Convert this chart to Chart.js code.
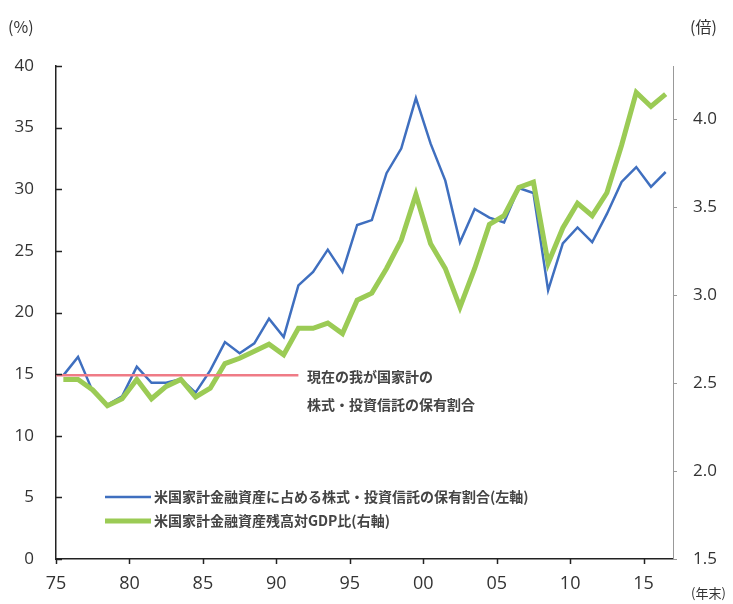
<!DOCTYPE html>
<html>
<head>
<meta charset="utf-8">
<script src="https://cdn.jsdelivr.net/npm/chart.js@4.4.1/dist/chart.umd.min.js"></script>
<style>
  body { margin: 0; background: #fff; }
  #wrap { width: 733px; height: 604px; position: relative; }
</style>
</head>
<body>
<div id="wrap"><canvas id="c" width="733" height="604"></canvas></div>
<script>
// year-end data, 1975 - 2016
var years = [1975,1976,1977,1978,1979,1980,1981,1982,1983,1984,1985,1986,1987,1988,1989,1990,1991,1992,1993,1994,1995,
             1996,1997,1998,1999,2000,2001,2002,2003,2004,2005,2006,2007,2008,2009,2010,2011,2012,2013,2014,2015,2016]
// share of stocks & funds in US household financial assets (%, left axis)
var stockShare = [14.9,16.4,13.6,12.5,13.2,15.6,14.3,14.3,14.6,13.5,15.3,17.6,16.7,17.5,19.5,18.0,22.2,23.3,25.1,23.3,27.1,
                  27.5,31.3,33.3,37.4,33.7,30.7,25.7,28.4,27.7,27.3,30.1,29.7,21.8,25.6,26.9,25.7,28.0,30.6,31.8,30.2,31.4]
// US household financial assets / GDP (times, right axis)
var assetsToGdp = [2.52,2.52,2.46,2.37,2.41,2.52,2.41,2.48,2.52,2.42,2.47,2.61,2.64,2.68,2.72,2.66,2.81,2.81,2.84,2.78,2.97,
                   3.01,3.15,3.31,3.57,3.29,3.15,2.93,3.15,3.40,3.45,3.61,3.64,3.18,3.38,3.52,3.45,3.58,3.85,4.15,4.07,4.14]
// current Japanese household ratio, drawn as a flat reference line
var japanX = [1975, 1991.5]
var japanY = [14.9, 14.9]
// axis ticks
var xTicks = [1975,1980,1985,1990,1995,2000,2005,2010,2015]
var leftTicks = [0,5,10,15,20,25,30,35,40]
var rightTicks = [1.5,2.0,2.5,3.0,3.5,4.0]

var blueLabel = "米国家計金融資産に占める株式・投資信託の保有割合(左軸)"
var greenLabel = "米国家計金融資産残高対GDP比(右軸)"
var noteLines = ["現在の我が国家計の", "株式・投資信託の保有割合"]

var BLUE = "#3f6fbf", GREEN = "#9bcb55", RED = "#ef7b86"
var JP = "'Noto Sans CJK JP', sans-serif"
var NUM = "'Open Sans', 'DejaVu Sans', sans-serif"

function pts(xs, ys, shift){
  var out = []
  for (var i = 0; i < xs.length; i++) out.push({x: xs[i] + shift, y: ys[i]})
  return out
}
function fixTicks(list){
  return function(s){ s.ticks = list.map(function(v){ return {value: v} }) }
}

var extras = {
  id: "extras",
  afterDraw: function(chart){
    var ctx = chart.ctx, a = chart.chartArea
    var yl = chart.scales.y, xs = chart.scales.x, yr = chart.scales.y2
    ctx.save()
    // inward ticks on left axis
    ctx.strokeStyle = "#222"; ctx.lineWidth = 1.5
    yl.ticks.forEach(function(t){
      var p = Math.round(yl.getPixelForValue(t.value)) + 0.5
      ctx.beginPath(); ctx.moveTo(a.left, p); ctx.lineTo(a.left + 6, p); ctx.stroke()
    })
    // ticks below x axis
    xs.ticks.forEach(function(t){
      var p = Math.round(xs.getPixelForValue(t.value)) + 0.5
      ctx.beginPath(); ctx.moveTo(p, a.bottom); ctx.lineTo(p, a.bottom + 5); ctx.stroke()
    })
    // small ticks right of right axis
    ctx.strokeStyle = "#999"; ctx.lineWidth = 1
    yr.ticks.forEach(function(t){
      var p = Math.round(yr.getPixelForValue(t.value)) + 0.5
      ctx.beginPath(); ctx.moveTo(a.right, p); ctx.lineTo(a.right + 4, p); ctx.stroke()
    })
    // unit labels
    ctx.fillStyle = "#333"; ctx.textBaseline = "middle"
    ctx.font = "16px " + JP
    ctx.textAlign = "left"
    ctx.fillText("(%)", 8, 27)
    ctx.fillText("(倍)", 690, 27)
    ctx.font = "13px " + JP
    ctx.fillText("(年末)", 691, 593)
    // note next to red line
    ctx.font = "bold 14px " + JP
    ctx.fillStyle = "#444"
    ctx.fillText(noteLines[0], 307, 377)
    ctx.fillText(noteLines[1], 307, 405)
    // legend
    ctx.lineCap = "butt"
    ctx.strokeStyle = BLUE; ctx.lineWidth = 2.5
    ctx.beginPath(); ctx.moveTo(105, 497); ctx.lineTo(151, 497); ctx.stroke()
    ctx.strokeStyle = GREEN; ctx.lineWidth = 5
    ctx.beginPath(); ctx.moveTo(105, 521); ctx.lineTo(151, 521); ctx.stroke()
    ctx.fillText(blueLabel, 154, 497)
    ctx.fillText(greenLabel, 154, 521)
    ctx.restore()
  }
}

new Chart(document.getElementById("c"), {
  type: "line",
  data: {
    datasets: [
      {label: "japan", data: pts(japanX, japanY, 0), yAxisID: "y", borderColor: RED, borderWidth: 2.5, pointRadius: 0, fill: false},
      {label: greenLabel, data: pts(years, assetsToGdp, 0.5), yAxisID: "y2", borderColor: GREEN, borderWidth: 5, pointRadius: 0, fill: false, tension: 0},
      {label: blueLabel, data: pts(years, stockShare, 0.5), yAxisID: "y", borderColor: BLUE, borderWidth: 2.5, pointRadius: 0, fill: false, tension: 0}
    ]
  },
  options: {
    responsive: false,
    animation: false,
    layout: {padding: {top: 66, bottom: 0, left: 0, right: 0}},
    plugins: {legend: {display: false}, tooltip: {enabled: false}},
    scales: {
      x: {
        type: "linear", min: 1975, max: 2017,
        afterBuildTicks: fixTicks(xTicks),
        afterFit: function(s){ s.height = 45 },
        ticks: {color: "#333", font: {family: NUM, size: 18}, padding: 14, maxRotation: 0, autoSkip: false,
                callback: function(v){ return String(Math.round(v) % 100).padStart(2, "0") }},
        grid: {display: false, drawTicks: false},
        border: {color: "#222", width: 1.5}
      },
      y: {
        position: "left", min: 0, max: 40,
        afterBuildTicks: fixTicks(leftTicks),
        afterFit: function(s){ s.width = 56 },
        ticks: {color: "#333", font: {family: NUM, size: 17}, padding: 22, autoSkip: false},
        grid: {display: false, drawTicks: false},
        border: {color: "#222", width: 1.5}
      },
      y2: {
        position: "right", min: 1.5, max: 4.3,
        afterBuildTicks: fixTicks(rightTicks),
        afterFit: function(s){ s.width = 60 },
        ticks: {color: "#333", font: {family: NUM, size: 17}, padding: 20, autoSkip: false,
                callback: function(v){ return v.toFixed(1) }},
        grid: {display: false, drawTicks: false},
        border: {color: "#999", width: 1}
      }
    }
  },
  plugins: [extras]
})
</script>
</body>
</html>
